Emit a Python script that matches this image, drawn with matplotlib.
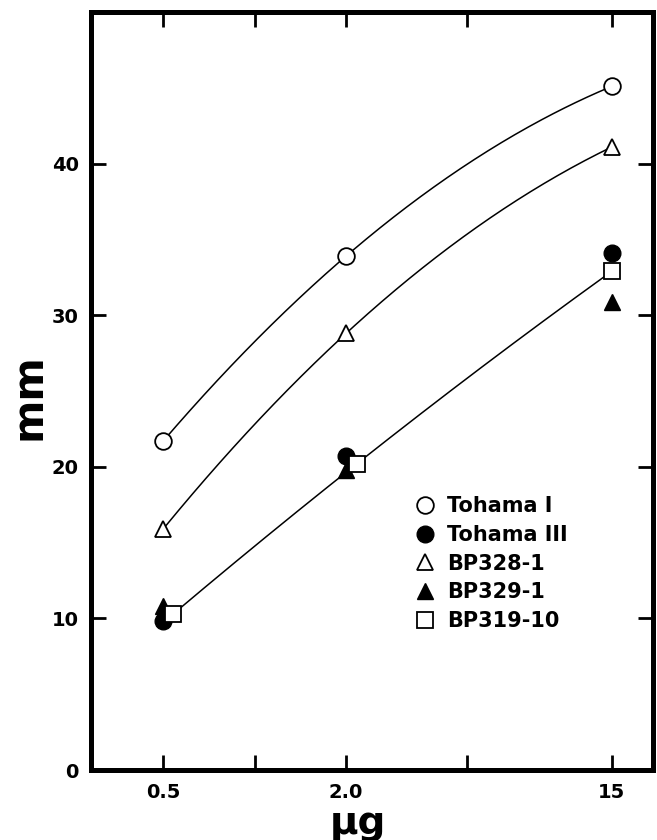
import numpy as np
import matplotlib
matplotlib.use("Agg")
import matplotlib.pyplot as plt

# dose (ug) and zone size (mm)
dose = [0.5, 2.0, 15]
dose_sq = [0.54, 2.17, 15]   # squares are drawn a little to the right in the original

tohama_i = [21.7, 33.9, 45.1]
tohama_iii = [9.8, 20.7, 34.1]
bp328 = [15.9, 28.8, 41.1]
bp329 = [10.8, 19.8, 30.9]
bp319 = [10.3, 20.2, 32.9]

xticks = [0.5, 1, 2, 5, 15]
xticklabels = ['0.5', '', '2.0', '', '15']
yticks = [0, 10, 20, 30, 40]

plt.rcParams['font.family'] = 'DejaVu Sans'
plt.rcParams['font.weight'] = 'bold'

fig = plt.figure(figsize=(6.57, 8.4), dpi=100)
ax = fig.add_axes([0.139, 0.0833, 0.855, 0.9024])


def curve(x, y):
    # smooth curve through the three points, quadratic in log(dose)
    lx = np.log10(x)
    c = np.polyfit(lx, y, 2)
    xs = np.linspace(lx[0], lx[-1], 200)
    ax.plot(10 ** xs, np.polyval(c, xs), color='black', lw=1.1, zorder=1)


curve(dose, tohama_i)
curve(dose, bp328)
curve(dose_sq, bp319)

ms = 12
ax.plot(dose, tohama_i, 'o', ms=ms, mfc='white', mec='black', mew=1.3, zorder=3, label='Tohama I')
ax.plot(dose, tohama_iii, 'o', ms=ms, mfc='black', mec='black', zorder=3, label='Tohama III')
ax.plot(dose, bp328, '^', ms=ms, mfc='white', mec='black', mew=1.3, zorder=3, label='BP328-1')
ax.plot(dose, bp329, '^', ms=ms, mfc='black', mec='black', zorder=3, label='BP329-1')
ax.plot(dose_sq, bp319, 's', ms=ms - 0.5, mfc='white', mec='black', mew=1.3, zorder=4, label='BP319-10')

ax.set_xscale('log')
ax.set_xlim(0.29, 20.5)
ax.set_ylim(0, 50)
ax.set_xticks(xticks)
ax.set_xticklabels(xticklabels)
ax.xaxis.set_minor_locator(matplotlib.ticker.NullLocator())
ax.set_yticks(yticks)

for s in ax.spines.values():
    s.set_linewidth(3.6)
ax.tick_params(direction='in', length=11, width=2, top=True, right=True,
               labelsize=14, pad=9)

ax.set_xlabel('µg', fontsize=28, fontweight='bold')
ax.xaxis.set_label_coords(0.475, -0.045)
ax.set_ylabel('mm', fontsize=30, fontweight='bold')
ax.yaxis.set_label_coords(-0.075, 0.492)

leg = ax.legend(loc='upper left', bbox_to_anchor=(0.557, 0.375), frameon=False,
                borderpad=0, handlelength=1.0, handletextpad=0.55,
                labelspacing=0.42, prop={'size': 15, 'weight': 'bold'})

fig.savefig('out.png', dpi=100)
